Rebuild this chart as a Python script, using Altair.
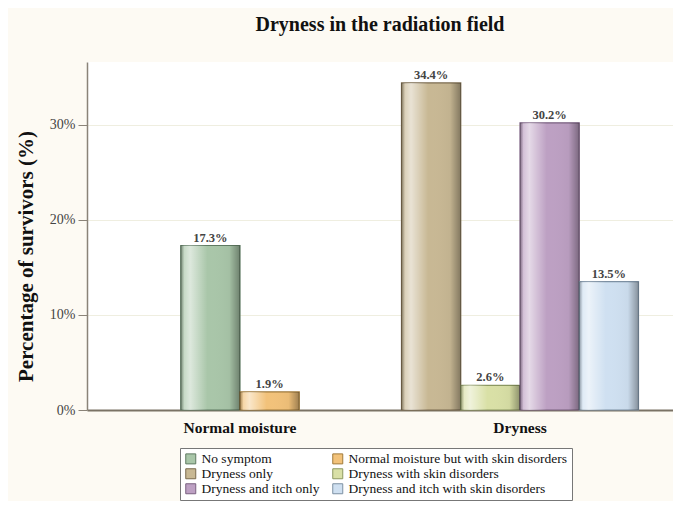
import altair as alt
import pandas as pd

groups = ["Normal moisture", "Normal moisture", "Dryness", "Dryness", "Dryness", "Dryness"]
series = [
    "No symptom",
    "Normal moisture but with skin disorders",
    "Dryness only",
    "Dryness with skin disorders",
    "Dryness and itch only",
    "Dryness and itch with skin disorders",
]
values = [17.3, 1.9, 34.4, 2.6, 30.2, 13.5]
group_order = ["Normal moisture", "Dryness"]
fill_colors = ["#a9c6a9", "#f2c27a", "#c8b894", "#d9e0a6", "#bda0c3", "#cfe0f1"]
stroke_colors = ["#5f7a62", "#a07a3a", "#7a6a4e", "#8c9860", "#7a6080", "#7d90a3"]
# legend reading order (filled column by column)
legend_order = [
    "No symptom",
    "Dryness only",
    "Dryness and itch only",
    "Normal moisture but with skin disorders",
    "Dryness with skin disorders",
    "Dryness and itch with skin disorders",
]
y_ticks = [0, 10, 20, 30]

df = pd.DataFrame({"group": groups, "series": series, "value": values})
# centre each group's bars inside a 4-slot band
df["idx"] = df.groupby("group").cumcount()
df["n"] = df.groupby("group")["series"].transform("count")
df["slot"] = df["idx"] + (4 - df["n"]) / 2
df["label"] = df["value"].map(lambda v: f"{v:.1f}%")

fill_map = dict(zip(series, fill_colors))
stroke_map = dict(zip(series, stroke_colors))

FONT = "Liberation Serif"

x_enc = alt.X(
    "group:N",
    sort=group_order,
    scale=alt.Scale(paddingInner=0.1536, paddingOuter=0.1232, align=0.5),
    axis=alt.Axis(
        title=None, labelAngle=0, labelFont=FONT, labelFontSize=15.5, labelFontWeight="bold",
        labelColor="#111", labelPadding=10, ticks=False, domainColor="#7a7265",
        domainWidth=2, grid=False,
    ),
)
xo_enc = alt.XOffset("slot:O", scale=alt.Scale(domain=[0, 1, 2, 3], paddingInner=0, paddingOuter=0))
y_enc = alt.Y(
    "value:Q",
    scale=alt.Scale(domain=[0, 36.6], nice=False),
    axis=alt.Axis(
        title="Percentage of survivors (%)", titleFont=FONT, titleFontSize=21,
        titleFontWeight="bold", titleColor="#111", titlePadding=13, titleY=194,
        values=y_ticks, labelExpr="datum.value + '%'", labelFont=FONT, labelFontSize=14,
        labelColor="#444", labelPadding=3, tickColor="#8a8378", tickSize=9,
        domainColor="#8a8378", domainWidth=1.5, gridColor="#efeee0", gridWidth=1.2,
    ),
)

base = alt.Chart(df)

bars = base.mark_bar(strokeWidth=1.2).encode(
    x=x_enc,
    xOffset=xo_enc,
    y=y_enc,
    color=alt.Color(
        "series:N",
        sort=legend_order,
        scale=alt.Scale(domain=legend_order, range=[fill_map[s] for s in legend_order]),
        legend=alt.Legend(
            title=None, orient="none", legendX=93, legendY=386, columns=2,
            columnPadding=10, rowPadding=0, symbolType="square", symbolSize=100,
            symbolStrokeColor="#888", symbolStrokeWidth=1, labelFont=FONT,
            labelFontSize=13.5, labelColor="#111", strokeColor="#777", fillColor="white",
            padding=4, labelLimit=400,
        ),
    ),
    stroke=alt.Stroke(
        "series:N",
        scale=alt.Scale(domain=legend_order, range=[stroke_map[s] for s in legend_order]),
        legend=None,
    ),
)

shine = base.mark_bar(
    fill=alt.Gradient(
        gradient="linear", x1=0, x2=1, y1=0, y2=0,
        stops=[
            alt.GradientStop(offset=0, color="rgba(0,0,0,0.30)"),
            alt.GradientStop(offset=0.06, color="rgba(255,255,255,0.35)"),
            alt.GradientStop(offset=0.16, color="rgba(255,255,255,0.6)"),
            alt.GradientStop(offset=0.45, color="rgba(255,255,255,0)"),
            alt.GradientStop(offset=0.82, color="rgba(0,0,0,0.03)"),
            alt.GradientStop(offset=1, color="rgba(0,0,0,0.35)"),
        ],
    ),
).encode(x=x_enc, xOffset=xo_enc, y=y_enc)

labels = base.mark_text(
    dy=-8, font=FONT, fontSize=12.5, fontWeight="bold", color="#444"
).encode(x=x_enc, xOffset=xo_enc, y=y_enc, text="label:N")

chart = (
    alt.layer(bars, shine, labels)
    .properties(
        width=586,
        height=348,
        title=alt.TitleParams(
            "Dryness in the radiation field", font=FONT, fontSize=20, fontWeight="bold",
            color="#111", offset=27, anchor="middle",
        ),
        background="#fdfaf3",
        padding={"left": 7, "top": 7, "right": 0, "bottom": 0},
    )
    .configure_view(fill="white", stroke=None)
    .configure_legend(labelFont=FONT, labelFontSize=13.5, labelColor="#111")
)

chart.save("out.html", embed_options={"renderer": "svg", "actions": False})
